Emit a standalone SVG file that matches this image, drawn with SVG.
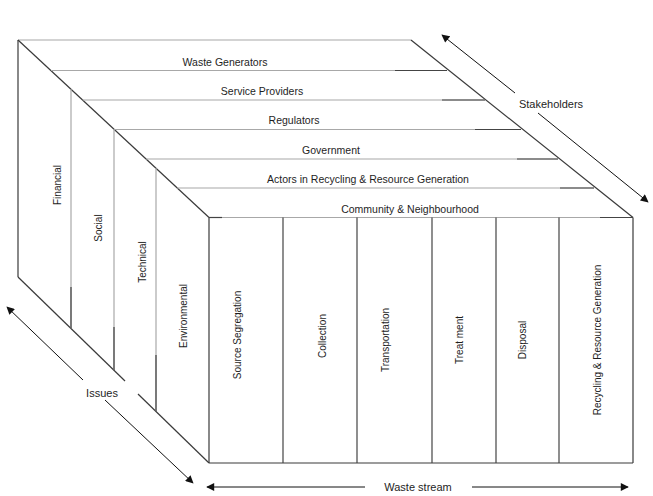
<svg xmlns="http://www.w3.org/2000/svg" width="653" height="496" viewBox="0 0 653 496">
  <defs>
    <marker id="head" viewBox="0 0 10 10" refX="9" refY="5" markerWidth="9" markerHeight="8" markerUnits="userSpaceOnUse" orient="auto-start-reverse">
      <path d="M0,0 L10,5 L0,10 z" fill="#111"/>
    </marker>
  </defs>
  <style>
    .edge { stroke: #3a3a3a; stroke-width: 1.2; fill: none; }
    .soft { stroke: #a8a8a8; stroke-width: 1.2; fill: none; }
    .dark { stroke: #444; stroke-width: 1.2; fill: none; }
    .arrow { stroke: #111; stroke-width: 1; fill: none; }
    .lbl { font-family: "Liberation Sans", Arial, sans-serif; font-size: 10.5px; fill: #1e1e1e; text-anchor: middle; dominant-baseline: central; }
    .vlbl { font-family: "Liberation Sans", Arial, sans-serif; font-size: 10px; fill: #1e1e1e; text-anchor: middle; dominant-baseline: central; }
    .axis { font-family: "Liberation Sans", Arial, sans-serif; font-size: 11px; fill: #1e1e1e; text-anchor: middle; dominant-baseline: central; }
  </style>
  <rect width="653" height="496" fill="#ffffff"/>

  <!-- Box outline: top face, left face and front face -->
  <g id="frame">
    <line class="soft" x1="18" y1="40" x2="411" y2="40"/>
    <line class="edge" x1="18" y1="40" x2="209" y2="217.5"/>
    <line class="edge" x1="411" y1="40" x2="633" y2="217.5"/>
    <line class="edge" x1="18" y1="40" x2="18" y2="277"/>
    <line class="edge" x1="18" y1="277" x2="125" y2="381"/>
    <line class="edge" x1="138" y1="394" x2="209" y2="463"/>
    <line class="soft" x1="209" y1="217.5" x2="633" y2="217.5"/>
    <line class="dark" x1="209" y1="217.5" x2="222" y2="217.5"/>
    <line class="dark" x1="600" y1="217.5" x2="633" y2="217.5"/>
    <line class="edge" x1="209" y1="217.5" x2="209" y2="463"/>
    <line class="edge" x1="633" y1="217.5" x2="633" y2="463"/>
    <line class="edge" x1="209" y1="463" x2="633" y2="463"/>
  </g>

  <!-- Stakeholder layers on the top face -->
  <g id="waste-generators">
    <line class="soft" x1="51" y1="70.5" x2="447" y2="70.5"/>
    <line class="dark" x1="395" y1="70.5" x2="447" y2="70.5"/>
    <text class="lbl" x="225" y="62">Waste Generators</text>
  </g>
  <g id="service-providers">
    <line class="soft" x1="82.6" y1="100" x2="485" y2="100"/>
    <line class="dark" x1="442" y1="100" x2="485" y2="100"/>
    <text class="lbl" x="262" y="91">Service Providers</text>
  </g>
  <g id="regulators">
    <line class="soft" x1="114.3" y1="129.5" x2="521" y2="129.5"/>
    <line class="dark" x1="475" y1="129.5" x2="521" y2="129.5"/>
    <text class="lbl" x="294" y="120">Regulators</text>
  </g>
  <g id="government">
    <line class="soft" x1="146" y1="159" x2="558" y2="159"/>
    <line class="dark" x1="517" y1="159" x2="558" y2="159"/>
    <text class="lbl" x="331" y="150">Government</text>
  </g>
  <g id="actors-recycling">
    <line class="soft" x1="177" y1="188" x2="594" y2="188"/>
    <line class="dark" x1="560" y1="188" x2="594" y2="188"/>
    <text class="lbl" x="368" y="179">Actors in Recycling &amp; Resource Generation</text>
  </g>
  <g id="community">
    <text class="lbl" x="410" y="209">Community &amp; Neighbourhood</text>
  </g>

  <!-- Issue slices on the left face -->
  <g id="financial">
    <text class="vlbl" x="57" y="185" transform="rotate(-90 57 185)">Financial</text>
  </g>
  <g id="social">
    <line class="soft" x1="71" y1="89" x2="71" y2="328.6"/>
    <line class="dark" x1="71" y1="287" x2="71" y2="328.6"/>
    <text class="vlbl" x="98" y="228" transform="rotate(-90 98 228)">Social</text>
  </g>
  <g id="technical">
    <line class="soft" x1="114" y1="129" x2="114" y2="370"/>
    <line class="dark" x1="114" y1="327" x2="114" y2="370"/>
    <text class="vlbl" x="142" y="262" transform="rotate(-90 142 262)">Technical</text>
  </g>
  <g id="environmental">
    <line class="soft" x1="156" y1="168" x2="156" y2="411"/>
    <line class="dark" x1="156" y1="355" x2="156" y2="411"/>
    <text class="vlbl" x="183" y="316" transform="rotate(-90 183 316)">Environmental</text>
  </g>

  <!-- Waste stream stages on the front face -->
  <g id="source-segregation">
    <text class="vlbl" x="237" y="335" transform="rotate(-90 237 335)">Source Segregation</text>
  </g>
  <g id="collection">
    <line class="dark" x1="283" y1="217.5" x2="283" y2="463"/>
    <text class="vlbl" x="322" y="336" transform="rotate(-90 322 336)">Collection</text>
  </g>
  <g id="transportation">
    <line class="dark" x1="357" y1="217.5" x2="357" y2="463"/>
    <text class="vlbl" x="385" y="340" transform="rotate(-90 385 340)">Transportation</text>
  </g>
  <g id="treatment">
    <line class="dark" x1="432" y1="217.5" x2="432" y2="463"/>
    <text class="vlbl" x="459" y="340" transform="rotate(-90 459 340)">Treat ment</text>
  </g>
  <g id="disposal">
    <line class="dark" x1="496" y1="217.5" x2="496" y2="463"/>
    <text class="vlbl" x="522" y="340" transform="rotate(-90 522 340)">Disposal</text>
  </g>
  <g id="recycling-resource">
    <line class="dark" x1="559" y1="217.5" x2="559" y2="463"/>
    <text class="vlbl" x="597" y="340" transform="rotate(-90 597 340)">Recycling &amp; Resource Generation</text>
  </g>

  <!-- Axis arrows -->
  <g id="connectors">
    <line class="arrow" x1="515" y1="93" x2="442" y2="35" marker-end="url(#head)"/>
    <line class="arrow" x1="538" y1="113" x2="648" y2="202" marker-end="url(#head)"/>
    <line class="arrow" x1="83" y1="380" x2="7" y2="307" marker-end="url(#head)"/>
    <line class="arrow" x1="105" y1="400" x2="193" y2="483" marker-end="url(#head)"/>
    <line class="arrow" x1="365" y1="487" x2="207" y2="487" marker-end="url(#head)"/>
    <line class="arrow" x1="472" y1="487" x2="628" y2="487" marker-end="url(#head)"/>
  </g>
  <g id="axis-labels">
    <text class="axis" x="551" y="104">Stakeholders</text>
    <text class="axis" x="102" y="393">Issues</text>
    <text class="axis" x="418" y="487">Waste stream</text>
  </g>
</svg>
